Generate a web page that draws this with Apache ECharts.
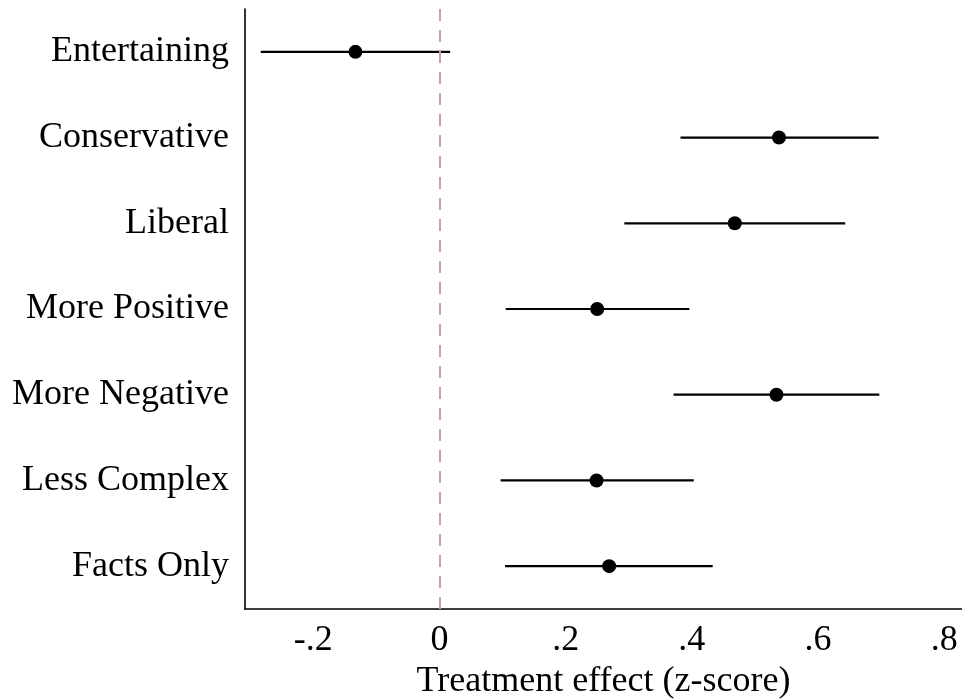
<!DOCTYPE html>
<html>
<head>
<meta charset="utf-8">
<script src="https://cdn.jsdelivr.net/npm/echarts@6/dist/echarts.min.js"></script>
<style>
  html, body { margin: 0; padding: 0; background: #fff; }
  #chart { width: 962px; height: 699px; }
</style>
</head>
<body>
<div id="chart"></div>
<script>
// treatment effects with confidence intervals
const categories = ['Entertaining', 'Conservative', 'Liberal', 'More Positive', 'More Negative', 'Less Complex', 'Facts Only']
const estimates = [-0.133, 0.538, 0.468, 0.250, 0.534, 0.249, 0.269]
const lower = [-0.283, 0.382, 0.293, 0.105, 0.371, 0.097, 0.104]
const upper = [0.017, 0.696, 0.643, 0.396, 0.697, 0.403, 0.433]
const xTicks = [-0.2, 0, 0.2, 0.4, 0.6, 0.8]

const fontFamily = '"Liberation Serif", "Times New Roman", serif'

const myChart = echarts.init(document.getElementById('chart'))

// "0.2" -> ".2", "-0.2" -> "-.2"
const fmtTick = (val) => {
  if (Math.abs(val) < 1e-9) return '0'
  return String(+val.toFixed(2)).replace(/^(-?)0\./, '$1.')
}

const option = {
  backgroundColor: '#fff',
  animation: false,
  grid: {
    left: 245,
    right: 0,
    top: 9,
    bottom: 90,
    outerBoundsMode: 'none',
  },
  xAxis: {
    type: 'value',
    min: -0.308,
    max: 0.828,
    name: 'Treatment effect (z-score)',
    nameLocation: 'middle',
    nameGap: 46,
    nameTextStyle: {
      color: '#000',
      fontFamily,
      fontSize: 36,
    },
    axisLine: {
      show: true,
      onZero: false,
      lineStyle: { color: '#000', width: 1.6 },
    },
    axisTick: { show: false },
    splitLine: { show: false },
    axisLabel: {
      customValues: xTicks,
      formatter: fmtTick,
      color: '#000',
      fontFamily,
      fontSize: 36,
      margin: 14,
    },
  },
  yAxis: {
    type: 'category',
    data: categories,
    inverse: true,
    axisLine: {
      show: true,
      onZero: false,
      lineStyle: { color: '#000', width: 1.6 },
    },
    axisTick: { show: false },
    splitLine: { show: false },
    axisLabel: {
      color: '#000',
      fontFamily,
      fontSize: 36,
      margin: 16,
      padding: [4, 0, 0, 0],
    },
  },
  series: [
    {
      // confidence intervals
      name: 'ci',
      type: 'custom',
      encode: { x: [0, 1], y: 2 },
      data: categories.map((c, i) => [lower[i], upper[i], i]),
      renderItem: (params, api) => {
        const p1 = api.coord([api.value(0), api.value(2)])
        const p2 = api.coord([api.value(1), api.value(2)])
        return {
          type: 'line',
          shape: { x1: p1[0], y1: p1[1], x2: p2[0], y2: p2[1] },
          style: { stroke: '#000', lineWidth: 2.2 },
        }
      },
      z: 2,
    },
    {
      name: 'estimate',
      type: 'scatter',
      symbol: 'circle',
      symbolSize: 14,
      itemStyle: { color: '#000', opacity: 1 },
      data: estimates.map((v, i) => [v, i]),
      z: 3,
      markLine: {
        silent: true,
        symbol: 'none',
        label: { show: false },
        lineStyle: {
          color: '#cc9fa4',
          width: 2,
          type: [12, 9],
        },
        data: [{ xAxis: 0 }],
      },
    },
  ],
}

myChart.setOption(option)
</script>
</body>
</html>
